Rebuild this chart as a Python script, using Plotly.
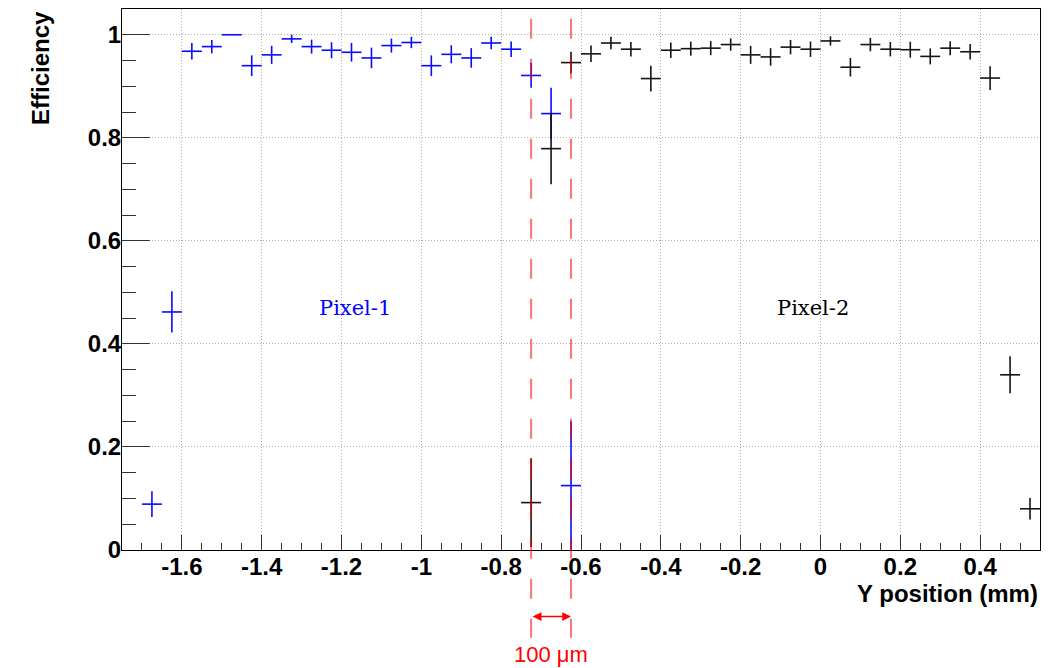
import plotly.graph_objects as go

# ---------------- data ----------------
BIN_WIDTH = 0.05

pixel1_x = [-1.675, -1.625, -1.575, -1.525, -1.475, -1.425, -1.375, -1.325, -1.275, -1.225, -1.175,
            -1.125, -1.075, -1.025, -0.975, -0.925, -0.875, -0.825, -0.775, -0.725, -0.675, -0.625]
pixel1_eff = [0.089, 0.462, 0.968, 0.977, 1.000, 0.940, 0.961, 0.992, 0.977, 0.970, 0.966,
              0.955, 0.979, 0.985, 0.940, 0.962, 0.955, 0.984, 0.972, 0.921, 0.847, 0.125]
pixel1_err = [0.025, 0.040, 0.016, 0.013, 0.000, 0.020, 0.0175, 0.008, 0.0136, 0.0155, 0.018,
              0.020, 0.0136, 0.011, 0.020, 0.0175, 0.019, 0.012, 0.015, 0.024, 0.050, 0.125]

pixel2_x = [-0.725, -0.675, -0.625, -0.575, -0.525, -0.475, -0.425, -0.375, -0.325, -0.275, -0.225,
            -0.175, -0.125, -0.075, -0.025, 0.025, 0.075, 0.125, 0.175, 0.225, 0.275, 0.325,
            0.375, 0.425, 0.475, 0.525]
pixel2_eff = [0.092, 0.779, 0.946, 0.963, 0.984, 0.972, 0.915, 0.970, 0.973, 0.974, 0.981,
              0.961, 0.957, 0.976, 0.972, 0.988, 0.937, 0.981, 0.972, 0.971, 0.958, 0.974,
              0.967, 0.916, 0.340, 0.080]
pixel2_err = [0.086, 0.069, 0.021, 0.016, 0.012, 0.014, 0.025, 0.015, 0.0136, 0.0136, 0.012,
              0.0175, 0.017, 0.014, 0.015, 0.009, 0.018, 0.013, 0.014, 0.0155, 0.0155, 0.0136,
              0.015, 0.023, 0.036, 0.021]

gap_edges = [-0.725, -0.625]      # 100 um inter-pixel region
gap_label = "100 \u03bcm"

x_ticks = [-1.6, -1.4, -1.2, -1.0, -0.8, -0.6, -0.4, -0.2, 0.0, 0.2, 0.4]
y_ticks = [0, 0.2, 0.4, 0.6, 0.8, 1.0]
x_range = [-1.75, 0.55]
y_range = [0, 1.05]

# ---------------- figure ----------------
BLUE = "rgb(10,10,255)"
BLACK = "rgb(20,20,20)"
RED = "rgba(255,0,0,0.55)"


def hist_trace(x, y, err, color, name):
    return go.Scatter(
        x=x, y=y, mode="markers", name=name,
        marker=dict(size=1, color=color, opacity=0),
        error_x=dict(type="constant", value=BIN_WIDTH / 2, color=color, thickness=1.6, width=0),
        error_y=dict(type="data", array=err, color=color, thickness=1.6, width=0),
        showlegend=False, hoverinfo="x+y",
    )


fig = go.Figure()
fig.add_trace(hist_trace(pixel1_x, pixel1_eff, pixel1_err, BLUE, "Pixel-1"))
fig.add_trace(hist_trace(pixel2_x, pixel2_eff, pixel2_err, BLACK, "Pixel-2"))

# dashed lines marking the gap (extend below the axis)
for xe in gap_edges:
    fig.add_shape(type="line", xref="x", yref="paper", x0=xe, x1=xe, y0=0.982, y1=-0.162,
                  line=dict(color=RED, width=2, dash="20px,20px"), layer="above")

# double arrow
ARROW_Y = -0.123
fig.add_annotation(x=gap_edges[1], y=ARROW_Y, xref="x", yref="paper",
                   ax=gap_edges[0], ay=0, axref="x", ayref="pixel",
                   text="", showarrow=True, arrowside="end+start", arrowhead=2,
                   arrowsize=1.1, arrowwidth=1.6, arrowcolor="rgb(255,0,0)", standoff=0, startstandoff=0)
fig.add_annotation(x=sum(gap_edges) / 2, y=-0.194, xref="x", yref="paper",
                   text=gap_label, showarrow=False, xanchor="center", yanchor="middle",
                   font=dict(family="Liberation Sans", size=22, color="rgb(255,0,0)"))

# region labels
fig.add_annotation(x=-1.165, y=0.47, xref="x", yref="y", text="Pixel-1", showarrow=False,
                   font=dict(family="DejaVu Serif", size=21, color="rgb(0,0,255)"))
fig.add_annotation(x=-0.019, y=0.47, xref="x", yref="y", text="Pixel-2", showarrow=False,
                   font=dict(family="DejaVu Serif", size=21, color="black"))

# axis titles (ROOT style placement)
fig.add_annotation(x=1.0, y=-0.080, xref="paper", yref="paper", text="<b>Y position (mm)</b>",
                   showarrow=False, xanchor="right", yanchor="middle",
                   font=dict(family="Liberation Sans", size=24, color="black"))
fig.add_annotation(x=-0.0893, y=1.0, xref="paper", yref="paper", text="<b>Efficiency</b>",
                   showarrow=False, xanchor="center", yanchor="top", textangle=-90,
                   font=dict(family="Liberation Sans", size=24, color="black"))

axis_common = dict(
    showline=True, linecolor="black", linewidth=1, mirror=True,
    ticks="inside", tickcolor="#333", tickwidth=1,
    showgrid=True, gridcolor="#b0b0b0", gridwidth=1, griddash="1px,2px",
    zeroline=False,
    tickfont=dict(family="Liberation Sans", size=24, color="black", weight="bold"),
)

fig.update_xaxes(range=x_range, tickmode="array", tickvals=x_ticks,
                 ticktext=[f"{v:g}" for v in x_ticks], ticklen=15, ticklabelstandoff=-5,
                 minor=dict(dtick=BIN_WIDTH, tick0=0, ticklen=7, ticks="inside", tickcolor="#333",
                            showgrid=False),
                 **axis_common)
fig.update_yaxes(range=y_range, tickmode="array", tickvals=y_ticks,
                 ticktext=[f"{v:g}" for v in y_ticks], ticklen=28, ticklabelstandoff=-5,
                 minor=dict(dtick=0.05, tick0=0, ticklen=14, ticks="inside", tickcolor="#333",
                            showgrid=False),
                 **axis_common)

fig.update_layout(
    width=1058, height=668,
    margin=dict(l=122, r=18, t=9, b=118),
    paper_bgcolor="white", plot_bgcolor="white",
    showlegend=False,
)

fig.write_html("out.html", config={"displayModeBar": False},
               post_script="document.body.style.margin='0';")
